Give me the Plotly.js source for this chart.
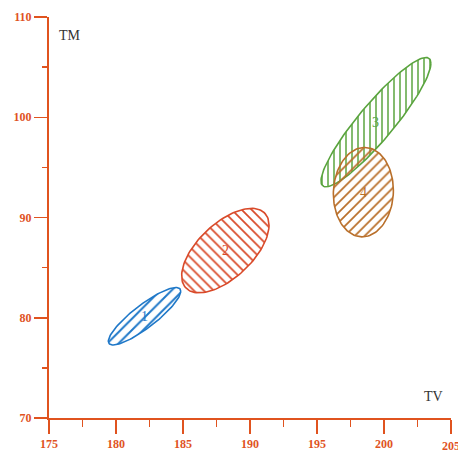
<!DOCTYPE html>
<html>
<head>
<meta charset="utf-8">
<script src="https://cdn.plot.ly/plotly-3.0.1.min.js"></script>
<style>html,body{margin:0;padding:0;background:#fff;}#chart{width:458px;height:452px;}</style>
</head>
<body>
<div id="chart"></div>
<script>
// Group labels
const groups = ["1", "2", "3", "4"];
// Ellipse centres (TV, TM)
const centerTV = [182.13, 188.16, 199.40, 198.46];
const centerTM = [80.15, 86.70, 99.51, 92.53];
// Half extents along TV and TM, and correlation
const spreadTV = [2.70, 3.26, 4.10, 2.24];
const spreadTM = [2.87, 4.21, 6.45, 4.46];
const correlation = [0.87, 0.60, 0.91, 0.04];
// Axis ticks
const xTicks = [175, 180, 185, 190, 195, 200, 205];
const xTickText = ["175", "180", "185", "190", "195", "200", "205"];
// Styling
const colors = ["#1f78c8", "#d94a2a", "#5aa43e", "#b96f2a"];
const hatch = ["/", "\\", "|", "/"];
const hatchSize = [8, 7, 6, 7];

const axisColor = "#e0531f";
const N = 120;
const traces = [];
const annotations = [];
for (let g = 0; g < groups.length; g++) {
  const xs = [], ys = [];
  const r = correlation[g];
  for (let i = 0; i <= N; i++) {
    const t = 2 * Math.PI * i / N;
    xs.push(centerTV[g] + spreadTV[g] * Math.cos(t));
    ys.push(centerTM[g] + spreadTM[g] * (r * Math.cos(t) + Math.sqrt(1 - r * r) * Math.sin(t)));
  }
  traces.push({
    type: "scatter", mode: "lines", x: xs, y: ys,
    fill: "toself",
    fillcolor: "rgba(0,0,0,0)",
    fillpattern: {shape: hatch[g], size: hatchSize[g], solidity: 0.25, fgcolor: colors[g], bgcolor: "rgba(0,0,0,0)"},
    line: {color: colors[g], width: 1.6},
    hoverinfo: "skip", showlegend: false
  });
  annotations.push({
    x: centerTV[g], y: centerTM[g], xref: "x", yref: "y", text: groups[g], showarrow: false,
    font: {family: "Liberation Serif", size: 14, color: colors[g]}
  });
}
annotations.push({x: 176.57, y: 108.2, xref: "x", yref: "y", text: "TM", showarrow: false,
  font: {family: "Liberation Serif", size: 14, color: "#333"}});
annotations.push({x: 203.73, y: 72.1, xref: "x", yref: "y", text: "TV", showarrow: false,
  font: {family: "Liberation Serif", size: 14, color: "#333"}});

const tickFont = {family: "Liberation Serif", size: 12, color: axisColor, weight: "bold"};
// last x tick label sits at the right edge (partly cut off)
const lastI = xTicks.length - 1;
annotations.push({x: xTicks[lastI], y: 0, xref: "x", yref: "paper", yanchor: "top", yshift: -19,
  text: xTickText[lastI], showarrow: false, font: tickFont});

const layout = {
  width: 458, height: 452,
  margin: {l: 49, r: 7, t: 17, b: 34},
  paper_bgcolor: "#fff", plot_bgcolor: "#fff",
  showlegend: false,
  xaxis: {
    range: [175, 205], showgrid: false, zeroline: false,
    showline: true, linecolor: axisColor, linewidth: 2,
    ticks: "outside", ticklen: 14, tickwidth: 1.5, tickcolor: axisColor,
    tickvals: xTicks, ticktext: xTickText.slice(0, lastI).concat([""]), tickfont: tickFont, ticklabelstandoff: 0,
    minor: {ticks: "outside", ticklen: 7, tickwidth: 1.5, tickcolor: axisColor, dtick: 2.5, tick0: 175, showgrid: false}
  },
  yaxis: {
    range: [70, 110], showgrid: false, zeroline: false,
    showline: true, linecolor: axisColor, linewidth: 2,
    ticks: "outside", ticklen: 13, tickwidth: 1.5, tickcolor: axisColor,
    tick0: 70, dtick: 10, tickfont: tickFont,
    minor: {ticks: "outside", ticklen: 5, tickwidth: 1.5, tickcolor: axisColor, dtick: 5, tick0: 70, showgrid: false}
  },
  annotations: annotations
};
Plotly.newPlot("chart", traces, layout, {displayModeBar: false, staticPlot: true});
</script>
</body>
</html>
